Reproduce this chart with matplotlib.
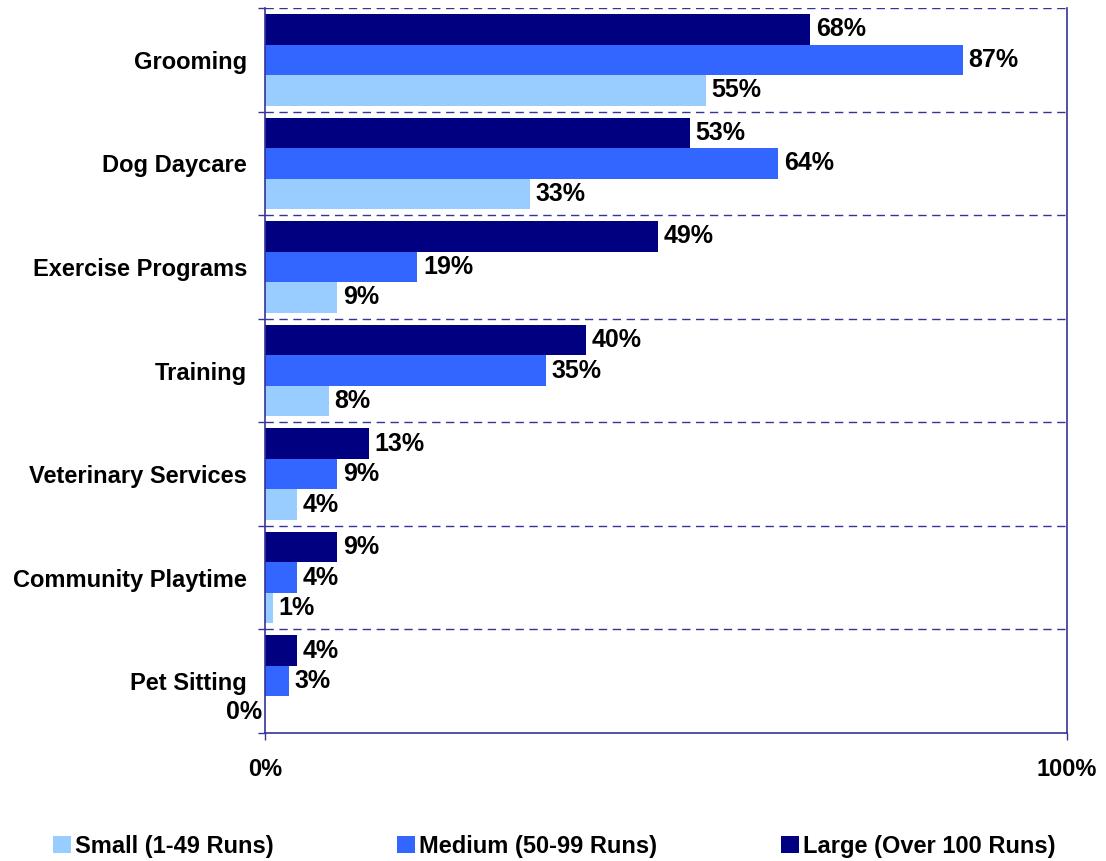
import matplotlib
matplotlib.use('Agg')
import matplotlib.pyplot as plt
import numpy as np

# Data
categories = ['Grooming', 'Dog Daycare', 'Exercise Programs', 'Training',
              'Veterinary Services', 'Community Playtime', 'Pet Sitting']
large = [68, 53, 49, 40, 13, 9, 4]
medium = [87, 64, 19, 35, 9, 4, 3]
small = [55, 33, 9, 8, 4, 1, 0]
series_names = ['Small (1-49 Runs)', 'Medium (50-99 Runs)', 'Large (Over 100 Runs)']
xtick_labels = ['0%', '100%']

# Style
c_small = '#99CCFF'
c_medium = '#3366FF'
c_large = '#000080'
c_line = '#333399'
fs = 17
fs_val = 18

plt.rcParams['font.family'] = ['Liberation Sans', 'DejaVu Sans']
plt.rcParams['font.weight'] = 'bold'

fig = plt.figure(figsize=(11.06, 8.61), dpi=100)
ax = fig.add_axes([265/1106, 1 - 733/861, 802/1106, 725/861])

y = np.arange(len(categories))
bh = 0.295

bars_l = ax.barh(y - bh, large, height=bh, color=c_large, label=series_names[2])
bars_m = ax.barh(y, medium, height=bh, color=c_medium, label=series_names[1])
bars_s = ax.barh(y + bh, small, height=bh, color=c_small, label=series_names[0])

# value labels
for bars, vals in [(bars_l, large), (bars_m, medium), (bars_s, small)]:
    for b, v in zip(bars, vals):
        yc = b.get_y() + b.get_height() / 2
        if v == 0:
            # Excel puts the zero label left of the axis
            ax.annotate('%d%%' % v, (0, yc), xytext=(-2, 0), textcoords='offset points',
                        ha='right', va='center', fontsize=fs_val, fontweight='bold',
                        annotation_clip=False)
        else:
            ax.annotate('%d%%' % v, (v, yc), xytext=(4, 0), textcoords='offset points',
                        ha='left', va='center', fontsize=fs_val, fontweight='bold')

ax.set_xlim(0, 100)
ax.set_ylim(len(categories) - 0.5, -0.5)

# y axis: labels at centers, ticks at boundaries
ax.set_yticks(y)
ax.set_yticklabels(categories, fontsize=fs, fontweight='bold')
ax.tick_params(axis='y', which='major', length=0, pad=13)
ax.set_yticks(np.arange(-0.5, len(categories)), minor=True)
ax.tick_params(axis='y', which='minor', length=5, width=1, color=c_line, direction='out')

ax.set_xticks([0, 100])
ax.set_xticklabels(xtick_labels, fontsize=fs, fontweight='bold')
ax.tick_params(axis='x', length=5, width=1, color=c_line, direction='out', pad=13)

# dashed separators between categories
for b in np.arange(-0.5, len(categories) - 1):
    ax.axhline(b, color=c_line, lw=1, ls=(0, (6, 4)), zorder=0.5)

for s in ['left', 'right', 'bottom']:
    ax.spines[s].set_color(c_line)
    ax.spines[s].set_linewidth(1.2)
ax.spines['top'].set_visible(False)

# legend: three separate entries spread across the bottom
handles = [bars_s, bars_m, bars_l]
xs = [53, 397, 781]
for h, name, x0 in zip(handles, series_names, xs):
    fig.legend([h], [name], loc='center left', bbox_to_anchor=(x0/1106, 1 - 846/861),
               frameon=False, prop={'weight': 'bold', 'size': fs},
               handlelength=0.75, handleheight=0.75, handletextpad=0.2,
               borderpad=0, borderaxespad=0)

fig.savefig('out.png', dpi=100)
